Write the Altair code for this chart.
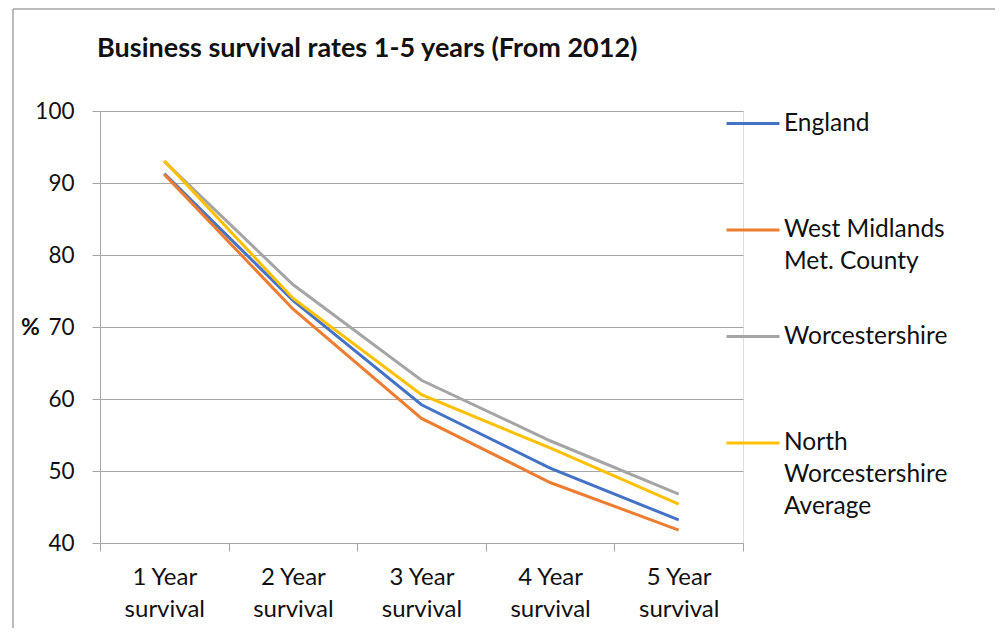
import altair as alt
import pandas as pd

categories = ["1 Year survival", "2 Year survival", "3 Year survival", "4 Year survival", "5 Year survival"]
series_names = ["England", "West Midlands Met. County", "Worcestershire", "North Worcestershire Average"]
england = [91.3, 73.7, 59.2, 50.4, 43.2]
west_midlands = [91.2, 72.5, 57.3, 48.4, 41.8]
worcestershire = [93.0, 75.9, 62.6, 54.2, 46.8]
north_worcs = [93.1, 74.0, 60.6, 53.2, 45.4]
colors = ["#4472C4", "#ED7D31", "#A5A5A5", "#FFC000"]
legend_label_lines = {
    "England": ["England", "", ""],
    "West Midlands Met. County": ["West Midlands", "Met. County", ""],
    "Worcestershire": ["Worcestershire", "", ""],
    "North Worcestershire Average": ["North", "Worcestershire", "Average"],
}
y_ticks = [40, 50, 60, 70, 80, 90, 100]

FONT = "Lato"
GRID = "#a6a6a6"

rows = []
for name, vals in zip(series_names, [england, west_midlands, worcestershire, north_worcs]):
    for cat, v in zip(categories, vals):
        rows.append({"category": cat, "series": name, "value": v})
df = pd.DataFrame(rows)

# legend label expression (multi-line labels)
expr = "''"
for name in reversed(series_names):
    arr = "[" + ",".join("'" + s + "'" for s in legend_label_lines[name]) + "]"
    expr = f"datum.label == '{name}' ? {arr} : ({expr})"

lines = alt.Chart(df).mark_line(strokeWidth=3).encode(
    x=alt.X(
        "category:N",
        sort=categories,
        scale=alt.Scale(type="band", paddingInner=0, paddingOuter=0),
        axis=alt.Axis(
            title=None,
            labelExpr="[substring(datum.label, 0, 6), substring(datum.label, 7)]",
            labelFont=FONT, labelFontSize=24, labelColor="#111",
            labelLineHeight=32, labelAngle=0, labelPadding=14,
            tickBand="extent", tickSize=8, tickColor=GRID, domainColor=GRID,
            grid=False,
        ),
    ),
    y=alt.Y(
        "value:Q",
        scale=alt.Scale(domain=[40, 100], nice=False, zero=False),
        axis=alt.Axis(
            values=y_ticks, title="%", titleAngle=0, titleFont=FONT, titleFontSize=23,
            titleFontWeight="bold", titleColor="#111", titleX=-70, titleY=216,
            titleAlign="center", titleBaseline="middle",
            labelFont=FONT, labelFontSize=22.5, labelColor="#111", labelPadding=18,
            tickSize=8, tickColor=GRID, domainColor=GRID, gridColor=GRID,
        ),
    ),
    color=alt.Color(
        "series:N",
        scale=alt.Scale(domain=series_names, range=colors),
        legend=alt.Legend(
            orient="none", legendX=625, legendY=2.5, title=None,
            symbolType="stroke", symbolSize=2809, symbolStrokeWidth=3,
            labelFont=FONT, labelFontSize=24.5, labelColor="#111",
            labelOffset=3, clipHeight=20, rowPadding=17.5, labelLimit=400,
            labelBaseline="middle", padding=0, labelExpr=expr,
        ),
    ),
    order=alt.Order("series_order:Q"),
).transform_calculate(
    series_order="indexof(" + str(series_names) + ", datum.series)"
)

border_v = alt.Chart(pd.DataFrame({"k": [0]})).mark_rule(color="#a6a6a6", strokeWidth=1.5).encode(
    x=alt.value(-87), y=alt.value(-102), y2=alt.value(600)
)
border_h = alt.Chart(pd.DataFrame({"k": [0]})).mark_rule(color="#a6a6a6", strokeWidth=1.5).encode(
    x=alt.value(-87), x2=alt.value(1000), y=alt.value(-102)
)

chart = alt.layer(border_v, border_h, lines).properties(
    width=643,
    height=432,
    title=alt.TitleParams(
        "Business survival rates 1-5 years (From 2012)",
        anchor="start", font=FONT, fontSize=27, fontWeight="bold", color="#111",
        dx=-3, offset=0, dy=55, frame="group",
    ),
    autosize=alt.AutoSizeParams(type="none"),
    padding={"left": 92, "top": 103, "right": 252, "bottom": 85},
).configure_view(stroke=None).configure(
    background="white",
    style={"guide-label": {"lineHeight": 32}},
)

chart.save("out.html", embed_options={"renderer": "svg", "actions": False})
